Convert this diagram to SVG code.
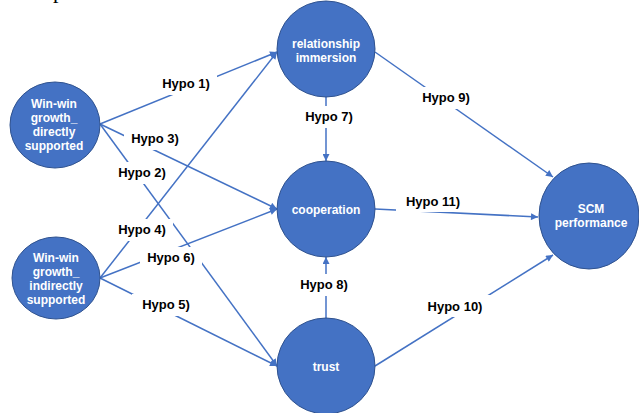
<svg xmlns="http://www.w3.org/2000/svg" width="639" height="413" viewBox="0 0 639 413">
<defs>
<marker id="arr" viewBox="0 0 10 10" refX="10" refY="5" markerWidth="8" markerHeight="7" markerUnits="userSpaceOnUse" orient="auto">
<path d="M0,0 L10,5 L0,10 z" fill="#4472C4"/>
</marker>
<style>
.node{fill:#4472C4;stroke:#2F528F;stroke-width:1}
.nt{font-family:"Liberation Sans",Arial,sans-serif;font-weight:bold;font-size:12px;fill:#ffffff;text-anchor:middle}
.edge{stroke:#4472C4;stroke-width:1.5;fill:none;marker-end:url(#arr)}
.lb{fill:#ffffff}
.lt{font-family:"Liberation Sans",Arial,sans-serif;font-weight:bold;font-size:13px;fill:#000000;text-anchor:middle}
</style>
</defs>
<rect width="639" height="413" fill="#ffffff"/>
<text x="53" y="-2" font-family="Liberation Serif,serif" font-size="22" fill="#000">p</text>
<g id="connectors">
<line class="edge" x1="100" y1="124" x2="277" y2="52"/>
<line class="edge" x1="100" y1="124" x2="277" y2="209"/>
<line class="edge" x1="100" y1="124" x2="277" y2="366"/>
<line class="edge" x1="100" y1="278" x2="277" y2="52"/>
<line class="edge" x1="100" y1="278" x2="277" y2="209"/>
<line class="edge" x1="100" y1="278" x2="277" y2="366"/>
<line class="edge" x1="326" y1="97" x2="326" y2="161"/>
<line class="edge" x1="326" y1="318" x2="326" y2="257"/>
<line class="edge" x1="375" y1="52" x2="553" y2="177"/>
<line class="edge" x1="375" y1="209" x2="538" y2="217"/>
<line class="edge" x1="375" y1="366" x2="553" y2="255"/>
<g id="labels">
<rect class="lb" x="155" y="73" width="62" height="22"/><text class="lt" x="186" y="88">Hypo 1)</text>
<rect class="lb" x="124" y="128" width="62" height="22"/><text class="lt" x="155" y="143">Hypo 3)</text>
<rect class="lb" x="111" y="162" width="62" height="22"/><text class="lt" x="142" y="177">Hypo 2)</text>
<rect class="lb" x="111" y="219" width="62" height="22"/><text class="lt" x="142" y="234">Hypo 4)</text>
<rect class="lb" x="140" y="247" width="62" height="22"/><text class="lt" x="171" y="262">Hypo 6)</text>
<rect class="lb" x="132" y="294" width="70" height="22"/><text class="lt" x="166" y="309">Hypo 5)</text>
<rect class="lb" x="298" y="106" width="62" height="22"/><text class="lt" x="329" y="121">Hypo 7)</text>
<rect class="lb" x="293" y="274" width="62" height="22"/><text class="lt" x="324" y="289">Hypo 8)</text>
<rect class="lb" x="412" y="87" width="68" height="22"/><text class="lt" x="446" y="102">Hypo 9)</text>
<rect class="lb" x="396" y="191" width="72" height="21"/><text class="lt" x="433" y="206">Hypo 11)</text>
<rect class="lb" x="415" y="295" width="80" height="22"/><text class="lt" x="455" y="311">Hypo 10)</text>
</g>
</g>
<g id="win-win-direct">
<ellipse class="node" cx="55" cy="125" rx="45" ry="43"/>
<text class="nt" x="54" y="108">Win-win</text>
<text class="nt" x="54" y="122">growth_</text>
<text class="nt" x="54" y="136">directly</text>
<text class="nt" x="54" y="150">supported</text>
</g>
<g id="win-win-indirect">
<ellipse class="node" cx="56" cy="278" rx="44" ry="41"/>
<text class="nt" x="56" y="262">Win-win</text>
<text class="nt" x="56" y="276">growth_</text>
<text class="nt" x="56" y="290">indirectly</text>
<text class="nt" x="56" y="304">supported</text>
</g>
<g id="relationship-immersion">
<ellipse class="node" cx="326" cy="49" rx="49" ry="48"/>
<text class="nt" x="326" y="48">relationship</text>
<text class="nt" x="326" y="62">immersion</text>
</g>
<g id="cooperation">
<ellipse class="node" cx="326" cy="209" rx="49" ry="48"/>
<text class="nt" x="326" y="214">cooperation</text>
</g>
<g id="trust">
<ellipse class="node" cx="326" cy="366" rx="49" ry="48"/>
<text class="nt" x="326" y="371">trust</text>
</g>
<g id="scm-performance">
<ellipse class="node" cx="589" cy="216" rx="50" ry="53"/>
<text class="nt" x="591" y="213">SCM</text>
<text class="nt" x="591" y="227">performance</text>
</g>
</svg>
